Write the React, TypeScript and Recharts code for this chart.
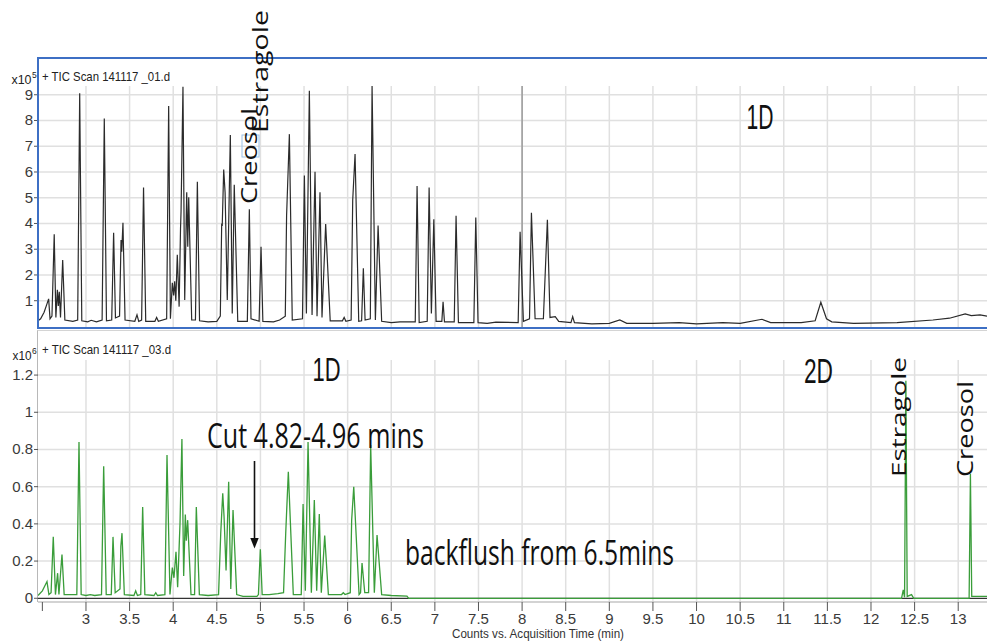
import { LineChart, Line, XAxis, YAxis, ReferenceLine } from 'recharts'

// time axis (min), shared by both traces
const X_TICKS = [2.5, 3, 3.5, 4, 4.5, 5, 5.5, 6, 6.5, 7, 7.5, 8, 8.5, 9, 9.5, 10, 10.5, 11, 11.5, 12, 12.5, 13]
const TOP_Y_TICKS = [1, 2, 3, 4, 5, 6, 7, 8, 9]
const BOTTOM_Y_TICKS = [0, 0.2, 0.4, 0.6, 0.8, 1, 1.2]

// TIC Scan 141117 _01.d  [time min, counts x10^5]
const TOP_TRACE: [number, number][] = [
  [2.45, 0.22], [2.48, 0.3], [2.52, 0.55], [2.55, 0.85], [2.572, 1.07], [2.588, 0.3], [2.61, 0.4], [2.636, 3.58],
  [2.655, 0.35], [2.672, 1.42], [2.683, 0.8], [2.694, 1.35], [2.708, 0.35], [2.733, 2.58], [2.758, 0.25], [2.85, 0.2],
  [2.905, 0.25], [2.928, 9.06], [2.952, 0.22], [3.02, 0.18], [3.06, 0.24], [3.12, 0.18], [3.185, 0.25], [3.21, 8.08],
  [3.235, 0.22], [3.295, 0.25], [3.317, 3.64], [3.338, 0.33], [3.385, 0.4], [3.402, 3.36], [3.41, 2.9], [3.424, 4.03],
  [3.448, 0.25], [3.56, 0.2], [3.585, 0.45], [3.605, 0.2], [3.638, 0.25], [3.66, 5.4], [3.685, 0.2], [3.79, 0.2],
  [3.81, 0.35], [3.83, 0.2], [3.925, 0.3], [3.948, 8.56], [3.968, 0.3], [3.99, 1.7], [4.005, 1.2], [4.017, 1.75],
  [4.03, 1.0], [4.047, 2.78], [4.068, 0.77], [4.084, 3.8], [4.09, 4.46], [4.112, 9.31], [4.132, 1.03], [4.155, 5.21],
  [4.167, 3.1], [4.178, 5.02], [4.212, 0.25], [4.255, 0.25], [4.277, 5.62], [4.302, 0.22], [4.4, 0.18], [4.5, 0.2],
  [4.54, 0.4], [4.556, 4.0], [4.562, 3.9], [4.579, 6.1], [4.595, 5.2], [4.62, 1.03], [4.655, 7.44], [4.677, 0.5],
  [4.7, 5.5], [4.74, 0.2], [4.85, 0.2], [4.873, 4.55], [4.892, 0.3], [4.985, 0.2], [5.007, 3.1], [5.028, 0.2],
  [5.15, 0.18], [5.22, 0.25], [5.285, 0.4], [5.3, 4.3], [5.332, 7.47], [5.365, 0.25], [5.482, 0.3], [5.504, 5.86],
  [5.527, 0.5], [5.561, 9.16], [5.592, 0.45], [5.626, 6.01], [5.649, 0.4], [5.683, 5.21], [5.706, 0.35], [5.748, 3.98],
  [5.8, 0.22], [5.94, 0.22], [5.96, 0.35], [5.98, 0.2], [6.04, 0.25], [6.058, 4.9], [6.085, 6.7], [6.127, 0.2],
  [6.16, 0.22], [6.18, 2.26], [6.2, 0.25], [6.26, 0.3], [6.28, 9.34], [6.318, 0.25], [6.349, 3.92], [6.39, 0.2],
  [6.5, 0.15], [6.6, 0.18], [6.775, 0.18], [6.796, 5.46], [6.82, 0.15], [6.912, 0.2], [6.934, 5.4], [6.96, 0.5],
  [6.988, 4.16], [7.014, 0.2], [7.08, 0.2], [7.094, 0.96], [7.11, 0.18], [7.222, 0.18], [7.243, 4.3], [7.27, 0.15],
  [7.447, 0.15], [7.469, 4.23], [7.495, 0.15], [7.6, 0.12], [7.7, 0.17], [7.955, 0.15], [7.977, 3.68], [8.015, 0.2],
  [8.085, 0.3], [8.107, 4.42], [8.149, 0.3], [8.244, 0.3], [8.29, 4.14], [8.32, 0.35], [8.38, 0.38], [8.42, 0.2],
  [8.56, 0.15], [8.58, 0.38], [8.6, 0.15], [8.8, 0.1], [9.0, 0.12], [9.12, 0.25], [9.2, 0.12], [9.5, 0.12],
  [9.8, 0.15], [10.0, 0.1], [10.3, 0.15], [10.5, 0.12], [10.75, 0.28], [10.85, 0.15], [11.2, 0.15], [11.36, 0.22],
  [11.425, 0.94], [11.49, 0.3], [11.55, 0.18], [11.8, 0.12], [12.3, 0.15], [12.71, 0.25], [12.9, 0.32], [13.08, 0.49],
  [13.15, 0.42], [13.25, 0.45], [13.33, 0.4],
]

// TIC Scan 141117 _03.d  [time min, counts x10^6]
const BOTTOM_TRACE: [number, number][] = [
  [2.45, 0.015], [2.5, 0.04], [2.553, 0.09], [2.575, 0.02], [2.6, 0.03], [2.625, 0.33], [2.65, 0.02], [2.675, 0.135],
  [2.69, 0.02], [2.725, 0.235], [2.75, 0.02], [2.895, 0.02], [2.92, 0.84], [2.945, 0.02], [3.0, 0.015], [3.05, 0.02],
  [3.1, 0.015], [3.178, 0.02], [3.203, 0.71], [3.232, 0.02], [3.29, 0.02], [3.31, 0.33], [3.335, 0.03], [3.39, 0.05],
  [3.4, 0.28], [3.413, 0.35], [3.44, 0.02], [3.55, 0.015], [3.57, 0.04], [3.59, 0.015], [3.628, 0.02], [3.65, 0.49],
  [3.675, 0.02], [3.78, 0.015], [3.8, 0.03], [3.82, 0.015], [3.905, 0.02], [3.929, 0.77], [3.963, 0.02], [3.99, 0.165],
  [4.009, 0.11], [4.032, 0.25], [4.051, 0.06], [4.078, 0.4], [4.1, 0.856], [4.12, 0.12], [4.139, 0.45], [4.15, 0.31],
  [4.166, 0.42], [4.204, 0.02], [4.245, 0.02], [4.265, 0.49], [4.3, 0.02], [4.4, 0.015], [4.52, 0.02], [4.545, 0.35],
  [4.568, 0.565], [4.583, 0.44], [4.606, 0.15], [4.636, 0.627], [4.66, 0.05], [4.686, 0.475], [4.728, 0.02], [4.8, 0.01],
  [4.96, 0.01], [4.977, 0.02], [4.999, 0.263], [5.02, 0.02], [5.1, 0.02], [5.2, 0.025], [5.265, 0.03], [5.29, 0.35],
  [5.32, 0.68], [5.377, 0.02], [5.468, 0.02], [5.489, 0.507], [5.515, 0.04], [5.546, 0.84], [5.584, 0.03], [5.618, 0.528],
  [5.645, 0.04], [5.675, 0.453], [5.698, 0.03], [5.737, 0.337], [5.779, 0.02], [5.93, 0.02], [5.95, 0.03], [5.97, 0.02],
  [6.03, 0.03], [6.046, 0.42], [6.07, 0.6], [6.131, 0.02], [6.148, 0.03], [6.165, 0.19], [6.196, 0.03], [6.24, 0.03],
  [6.264, 0.824], [6.306, 0.03], [6.337, 0.34], [6.39, 0.02], [6.5, 0.015], [6.68, 0.012], [6.7, 0], [12.35, 0],
  [12.37, 0.045], [12.385, 0.005], [12.4, 1.17], [12.415, 0.01], [12.465, 0.02], [12.49, 0], [13.125, 0], [13.14, 0.668],
  [13.155, 0.01], [13.33, 0.01],
]

const topData = TOP_TRACE.map(([t, v]) => ({ t, v }))
const bottomData = BOTTOM_TRACE.map(([t, v]) => ({ t, v }))

const NARROW = "'Liberation Sans Narrow', 'Liberation Sans', Arial, sans-serif"
const HUMAN = "'Open Sans', 'Noto Sans', sans-serif"
const GRID = '#e0e0e0'
const GRID_X = X_TICKS.filter((t) => t >= 3)

function YTick({ x, y, payload }: any) {
  return (
    <text x={x} y={y} dy={5} textAnchor="end" fontSize={15} fill="#3a3a3a" fontFamily={NARROW}>
      {payload.value}
    </text>
  )
}

function XTick({ x, y, payload }: any) {
  if (payload.value < 2.9) return <g />
  return (
    <text x={x} y={y} dy={11} textAnchor="middle" fontSize={15} fill="#3a3a3a" fontFamily={NARROW}>
      {payload.value}
    </text>
  )
}

export default function App() {
  return (
    <div style={{ position: 'absolute', left: 0, top: 0, width: 987, height: 641, overflow: 'hidden', background: '#fff' }}>
      {/* upper run */}
      <div style={{ position: 'absolute', left: 0, top: 58 }}>
        <LineChart width={987} height={270} data={topData} margin={{ top: 28, right: 0, bottom: 0, left: 0 }}>
          <XAxis dataKey="t" type="number" domain={[2.45, 13.33]} ticks={X_TICKS} allowDataOverflow height={0} tick={false} axisLine={false} tickLine={false} />
          <YAxis type="number" domain={[-0.06, 9.34]} ticks={TOP_Y_TICKS} allowDataOverflow width={38} axisLine={false} tickSize={4} tickMargin={1} tickLine={{ stroke: '#555' }} tick={YTick} />
          {GRID_X.map((t) => (
            <ReferenceLine key={'gx' + t} x={t} stroke={GRID} strokeWidth={1.5} />
          ))}
          {TOP_Y_TICKS.map((v) => (
            <ReferenceLine key={'gy' + v} y={v} stroke={GRID} strokeWidth={1.5} />
          ))}
          <ReferenceLine x={8} stroke="#9a9a9a" strokeWidth={1.5} />
          <Line type="linear" dataKey="v" stroke="#2b2b2b" strokeWidth={1.2} dot={false} isAnimationActive={false} />
        </LineChart>
      </div>
      <div style={{ position: 'absolute', left: 37, top: 57, width: 970, height: 272, border: '2px solid #3d6fc4', boxSizing: 'border-box', pointerEvents: 'none' }} />

      {/* lower run */}
      <div style={{ position: 'absolute', left: 37, top: 330, width: 970, height: 272, borderTop: '1.5px solid #d4d4d4', borderLeft: '1.5px solid #b8b8b8', boxSizing: 'border-box' }} />
      <div style={{ position: 'absolute', left: 0, top: 331 }}>
        <LineChart width={987} height={310} data={bottomData} margin={{ top: 29, right: 0, bottom: 0, left: 0 }}>
          <XAxis dataKey="t" type="number" domain={[2.45, 13.33]} ticks={X_TICKS} allowDataOverflow height={39} axisLine={{ stroke: '#c4c4c4', strokeWidth: 1.5 }} tickSize={9} tickMargin={2} tickLine={{ stroke: '#555' }} tick={XTick} />
          <YAxis type="number" domain={[-0.02, 1.281]} ticks={BOTTOM_Y_TICKS} allowDataOverflow width={38} axisLine={false} tickSize={4} tickMargin={1} tickLine={{ stroke: '#555' }} tick={YTick} />
          {GRID_X.map((t) => (
            <ReferenceLine key={'gx' + t} x={t} stroke={GRID} strokeWidth={1.5} />
          ))}
          {BOTTOM_Y_TICKS.filter((v) => v > 0).map((v) => (
            <ReferenceLine key={'gy' + v} y={v} stroke={GRID} strokeWidth={1.5} />
          ))}
          <ReferenceLine y={0} stroke="#333" strokeWidth={1.2} />
          <Line type="linear" dataKey="v" stroke="#3a9d3a" strokeWidth={1.3} dot={false} isAnimationActive={false} />
        </LineChart>
      </div>

      {/* titles and annotations */}
      <svg width={987} height={641} style={{ position: 'absolute', left: 0, top: 0, pointerEvents: 'none' }}>
        <text x={42} y={80.5} fontSize={13} fontFamily={NARROW} fill="#222" textLength={128} lengthAdjust="spacingAndGlyphs">+ TIC Scan 141117 _01.d</text>
        <text x={11.5} y={83.5} fontSize={13} fontFamily={NARROW} fill="#222" textLength={20} lengthAdjust="spacingAndGlyphs">x10</text>
        <text x={32} y={78} fontSize={8.5} fontFamily={NARROW} fill="#222">5</text>
        <text x={42} y={354} fontSize={13} fontFamily={NARROW} fill="#222" textLength={129} lengthAdjust="spacingAndGlyphs">+ TIC Scan 141117 _03.d</text>
        <text x={12.5} y={360} fontSize={13} fontFamily={NARROW} fill="#222" textLength={19} lengthAdjust="spacingAndGlyphs">x10</text>
        <text x={32} y={354} fontSize={8.5} fontFamily={NARROW} fill="#222">6</text>

        <text x={746.5} y={128.5} fontSize={35} fontFamily={NARROW} fill="#111" textLength={27} lengthAdjust="spacingAndGlyphs">1D</text>
        <text x={312.5} y={381} fontSize={34} fontFamily={NARROW} fill="#111" textLength={28} lengthAdjust="spacingAndGlyphs">1D</text>
        <text x={804} y={383} fontSize={35} fontFamily={NARROW} fill="#111" textLength={29} lengthAdjust="spacingAndGlyphs">2D</text>

        <rect x={242} y={135} width={17} height={22} fill="none" stroke="#9cc2e8" strokeWidth={1} />
        <text transform="translate(256.5,204) rotate(-90)" fontSize={21} fontFamily={HUMAN} fill="#111" textLength={96} lengthAdjust="spacingAndGlyphs">Creosol</text>
        <text transform="translate(267.5,133) rotate(-90)" fontSize={21} fontFamily={HUMAN} fill="#111" textLength={123} lengthAdjust="spacingAndGlyphs">Estragole</text>
        <text transform="translate(905.5,477) rotate(-90)" fontSize={20} fontFamily={HUMAN} fill="#111" textLength={120} lengthAdjust="spacingAndGlyphs">Estragole</text>
        <text transform="translate(973,477) rotate(-90)" fontSize={21} fontFamily={HUMAN} fill="#111" textLength={96} lengthAdjust="spacingAndGlyphs">Creosol</text>

        <text x={207} y={448} fontSize={34} fontFamily={HUMAN} fill="#111" textLength={217} lengthAdjust="spacingAndGlyphs">Cut 4.82-4.96 mins</text>
        <line x1={254.5} y1={461} x2={254.5} y2={540} stroke="#111" strokeWidth={1.6} />
        <polygon points="250.3,538 258.7,538 254.5,548.5" fill="#111" />
        <text x={405} y={565} fontSize={35} fontFamily={HUMAN} fill="#111" textLength={269} lengthAdjust="spacingAndGlyphs">backflush from 6.5mins</text>

        <text x={452} y={638} fontSize={13} fontFamily={NARROW} fill="#333" textLength={172} lengthAdjust="spacingAndGlyphs">Counts vs. Acquisition Time (min)</text>
      </svg>
    </div>
  )
}
